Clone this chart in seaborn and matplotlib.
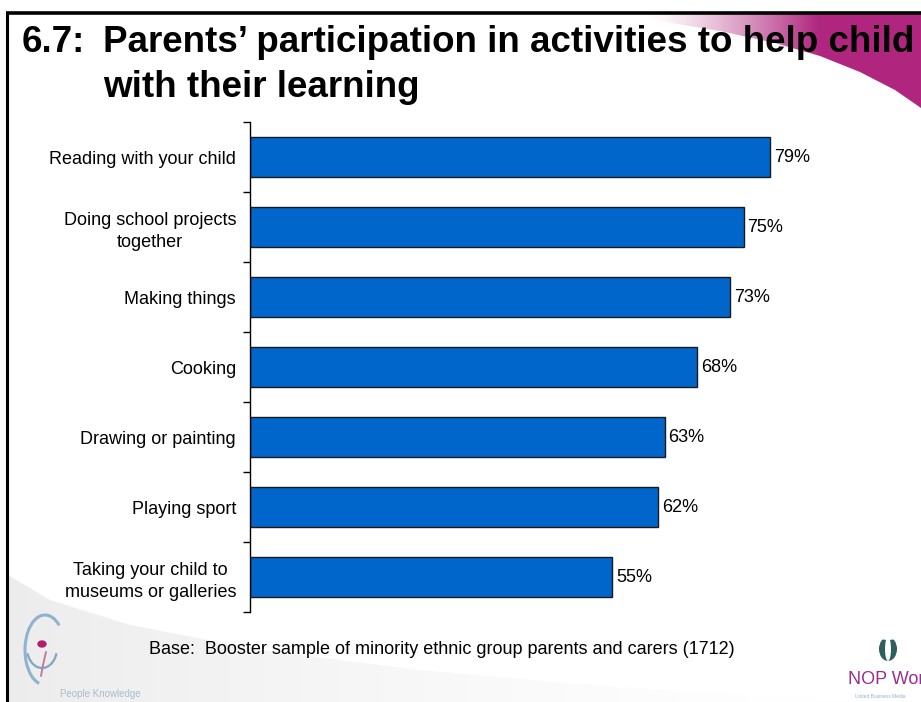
import numpy as np
import pandas as pd
import matplotlib
matplotlib.use("Agg")
import matplotlib.pyplot as plt
from matplotlib.patches import Polygon, Ellipse, Arc
import seaborn as sns

# ---- data -------------------------------------------------------------
activities = [
    "Reading with your child",
    "Doing school projects\ntogether",
    "Making things",
    "Cooking",
    "Drawing or painting",
    "Playing sport",
    "Taking your child to\nmuseums or galleries",
]
percent = [79, 75, 73, 68, 63, 62, 55]

title_num = "6.7:"
title_lines = ["Parents\u2019 participation in activities to help child",
               "with their learning"]
base_note = "Base:  Booster sample of minority ethnic group parents and carers (1712)"

df = pd.DataFrame({"activity": activities, "percent": percent})

sns.set_theme(style="white")
plt.rcParams["font.family"] = ["Liberation Sans", "DejaVu Sans"]
plt.rcParams["text.color"] = "black"
plt.rcParams["ytick.color"] = "black"
plt.rcParams["ytick.labelcolor"] = "black"

W, H = 921, 702
fig = plt.figure(figsize=(W / 100, H / 100), dpi=100)
fig.patch.set_facecolor("white")

# ---- slide background layer (pixel coordinates) -----------------------
bg = fig.add_axes([0, 0, 1, 1], zorder=0)
bg.set_xlim(0, W)
bg.set_ylim(H, 0)
bg.axis("off")

gx = np.linspace(0, 1, 300)

# purple swoosh, top right, fading to the left
sw_pts = [(580, 14), (921, 14), (921, 108), (895, 90), (860, 72),
          (820, 56), (775, 43), (720, 31), (665, 22), (620, 17)]
sw_patch = Polygon(sw_pts, closed=True, facecolor="none", edgecolor="none")
bg.add_patch(sw_patch)
grad = np.zeros((2, 300, 4))
grad[..., 0] = 176 / 255
grad[..., 1] = 38 / 255
grad[..., 2] = 127 / 255
grad[..., 3] = np.clip((gx - 0.2) / 0.5, 0, 1) ** 1.3
im = bg.imshow(grad, extent=[580, 921, 110, 14], aspect="auto", zorder=1)
im.set_clip_path(sw_patch)

# grey swoosh, bottom left, fading to the right
gs_pts = [(8, 575), (50, 600), (130, 625), (260, 650), (420, 670),
          (600, 686), (760, 696), (880, 702), (8, 702)]
gs_patch = Polygon(gs_pts, closed=True, facecolor="none", edgecolor="none")
bg.add_patch(gs_patch)
g2 = np.zeros((2, 300, 4))
g2[..., 0] = g2[..., 1] = g2[..., 2] = 0.88
g2[..., 3] = np.clip(1 - gx, 0, 1) ** 1.5 * 0.6
im2 = bg.imshow(g2, extent=[8, 880, 702, 570], aspect="auto", zorder=1)
im2.set_clip_path(gs_patch)

# "People Knowledge" mark
bg.add_patch(Arc((45, 650), 40, 70, theta1=100, theta2=300,
                 color="#8FB3CF", lw=2.2, zorder=2))
bg.add_patch(Arc((42, 648), 30, 40, theta1=20, theta2=160,
                 color="#7FA7C4", lw=1.6, zorder=2))
bg.add_patch(Ellipse((42, 644), 8, 6, color="#B0206F", zorder=3))
bg.plot([46, 43, 41], [652, 665, 676], color="#C47A9A", lw=1.4, zorder=3)
bg.text(60, 694, "People Knowledge", fontsize=7, color="#A9BDCB",
        ha="left", va="center", zorder=3)

# NOP World mark
bg.add_patch(Ellipse((888, 649), 18, 24, facecolor="#2E5E5E",
                     edgecolor="none", zorder=3))
bg.add_patch(Ellipse((888, 649), 6, 24, facecolor="white",
                     edgecolor="none", zorder=4))
bg.add_patch(Ellipse((888, 637), 18, 6, facecolor="white",
                     edgecolor="none", zorder=4))
bg.text(848, 680, "NOP World", fontsize=13, color="#9C2C8E",
        ha="left", va="center", zorder=3)
bg.text(855, 697, "United Business Media", fontsize=3.5, color="#9AB0C8",
        ha="left", va="center", zorder=3)

# slide frame
bg.plot([7, 7], [13, H], color="black", lw=2.2, zorder=5,
        solid_capstyle="butt")
bg.plot([6, W], [13, 13], color="black", lw=2.6, zorder=5,
        solid_capstyle="butt")

# title
for xx, yy, s in [(22, 52, title_num), (103, 52, title_lines[0]),
                  (103, 97, title_lines[1])]:
    bg.text(xx, yy, s, fontsize=26.5, fontweight="bold", color="black",
            ha="left", va="baseline", zorder=6)

# base note
bg.text(442, 650, base_note, fontsize=13, ha="center", va="center",
        color="black", zorder=6)

# ---- bar chart --------------------------------------------------------
x0, x1 = 250 / W, 908 / W
y0, y1 = 1 - 612 / H, 1 - 122 / H
ax = fig.add_axes([x0, y0, x1 - x0, y1 - y0], zorder=2)
ax.patch.set_alpha(0)

sns.barplot(data=df, x="percent", y="activity", orient="h",
            color="#0066CC", saturation=1, width=0.56,
            edgecolor="#1a1a1a", linewidth=1.0, ax=ax)

ax.set_xlim(0, 100)
ax.set_ylim(len(activities) - 0.5, -0.5)
ax.set_xlabel("")
ax.set_ylabel("")
ax.set_xticks([])

for s in ["top", "right", "bottom"]:
    ax.spines[s].set_visible(False)
ax.spines["left"].set_color("black")
ax.spines["left"].set_linewidth(1.0)

ax.set_yticks(range(len(activities)))
ax.set_yticklabels(activities, fontsize=13, multialignment="center",
                   linespacing=1.35, color="black")
ax.tick_params(axis="y", which="major", length=0, pad=10)
ax.set_yticks(np.arange(-0.5, len(activities), 1.0), minor=True)
ax.tick_params(axis="y", which="minor", length=5, width=1.0,
               color="black", direction="out", left=True)

for i, v in enumerate(percent):
    ax.text(v + 0.6, i, f"{v}%", fontsize=13, ha="left", va="center",
            color="black")

fig.savefig("out.png", dpi=100)
